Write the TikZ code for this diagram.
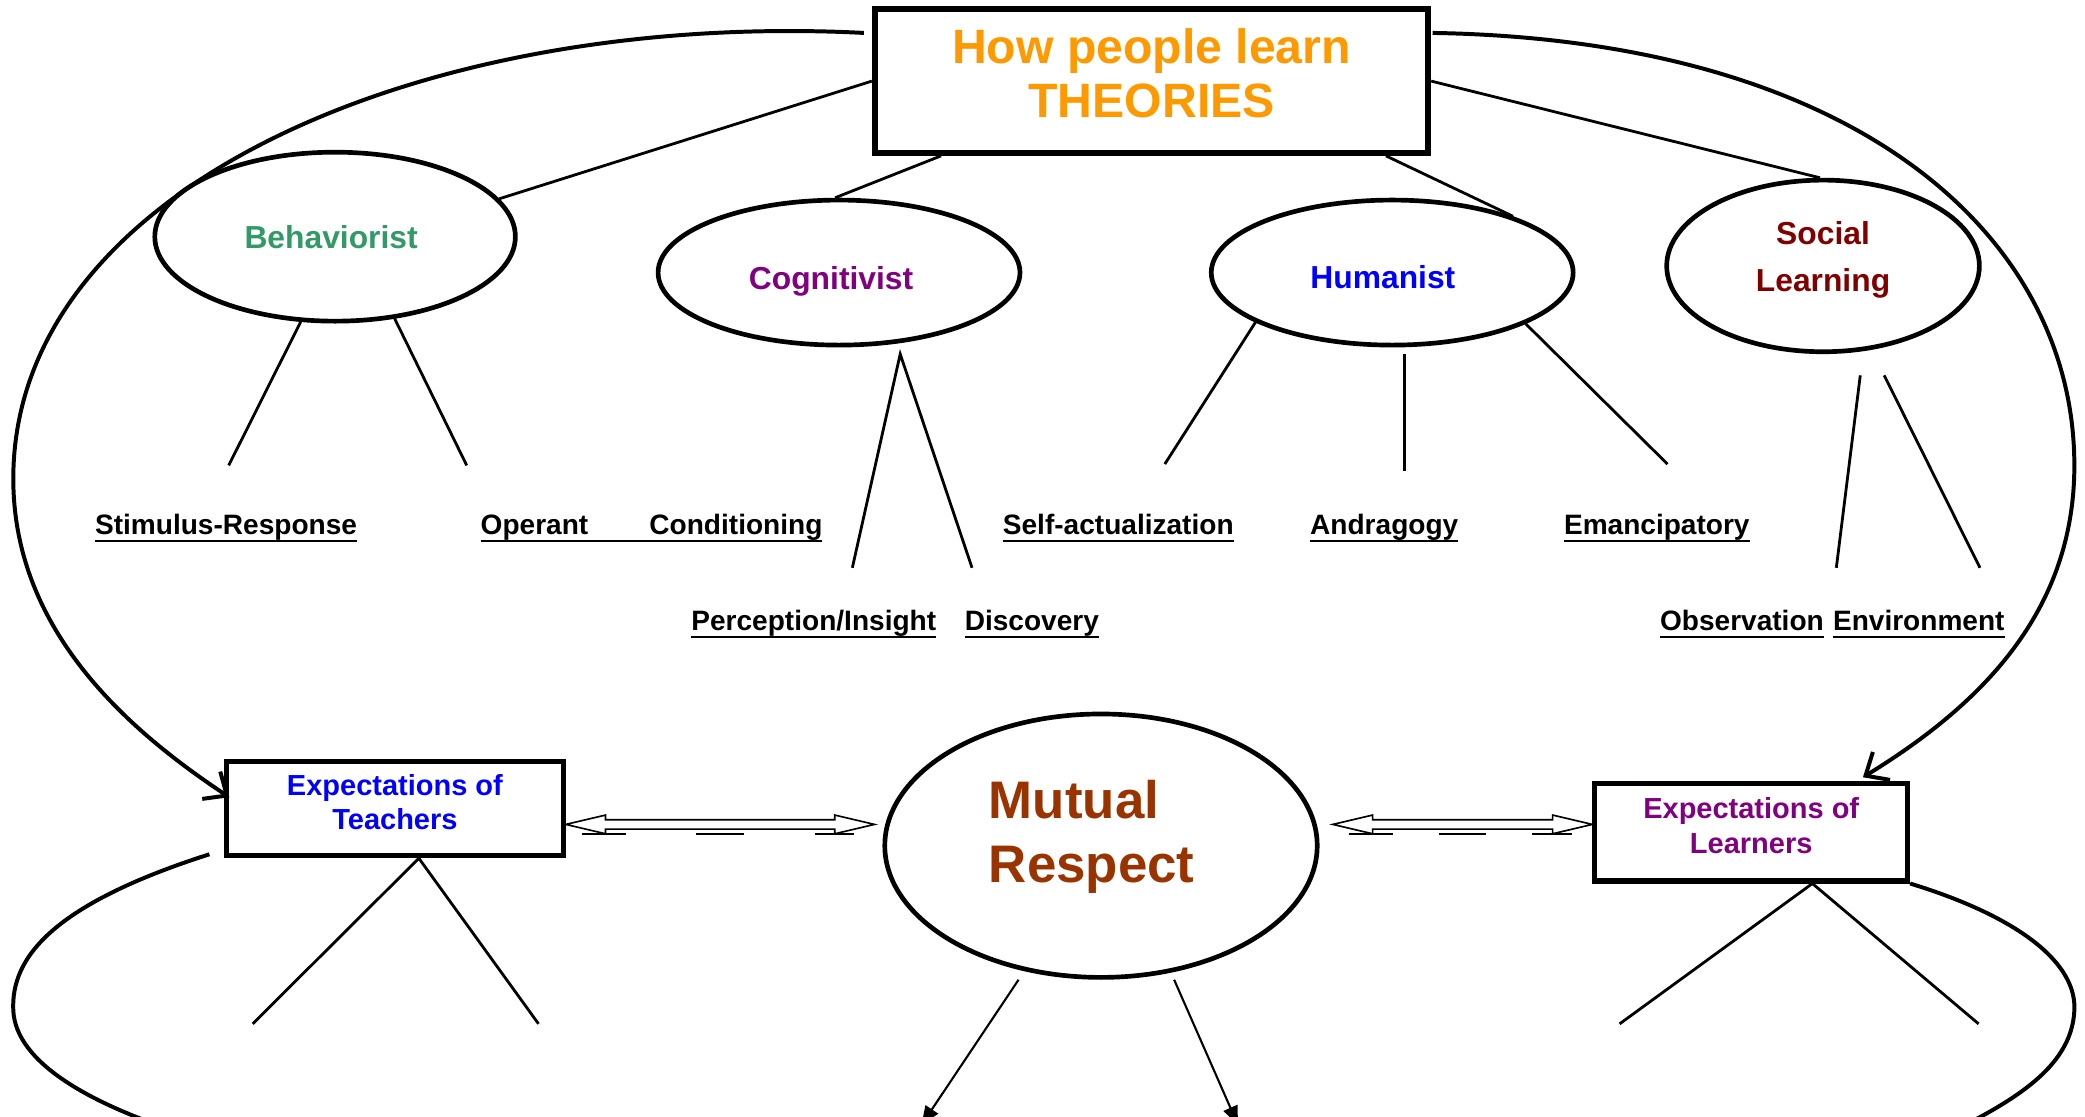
\documentclass[tikz,border=0pt]{standalone}
\usepackage{fontspec}
\setmainfont{Liberation Sans}
\usepackage{xcolor}
\usetikzlibrary{positioning,arrows.meta,calc,shapes.geometric}

\definecolor{titleorange}{HTML}{FF9900}
\definecolor{behavgreen}{HTML}{339966}
\definecolor{cognpurple}{HTML}{800080}
\definecolor{socialred}{HTML}{800000}
\definecolor{respectbrown}{HTML}{993300}

% underlined sub-item, rule just under the baseline
\newcommand{\ulbl}[1]{\underline{\smash{#1}\vphantom{x}}}

% hollow two-headed arrow between two points of equal height, with its dashed trace below
\newcommand{\hollowarrow}[2]{%
  \draw[line width=0.35pt] let \p1=(#1), \p2=(#2) in
    (\x1,\y1) -- (\x1+8.5pt,\y1+2pt) -- (\x1+8.5pt,\y1+1pt) -- (\x2-8.5pt,\y1+1pt)
    -- (\x2-8.5pt,\y1+2pt) -- (\x2,\y1) -- (\x2-8.5pt,\y1-2pt) -- (\x2-8.5pt,\y1-1pt)
    -- (\x1+8.5pt,\y1-1pt) -- (\x1+8.5pt,\y1-2pt) -- cycle;
  \draw[line width=0.5pt] let \p1=(#1), \p2=(#2) in
    (\x1+3.4pt,\y1-2pt) -- (\x1+12.8pt,\y1-2pt)
    ({(\x1+\x2)/2-5.1pt},\y1-2pt) -- ({(\x1+\x2)/2+5.1pt},\y1-2pt)
    (\x2-12.8pt,\y1-2pt) -- (\x2-4.3pt,\y1-2pt);
}

\begin{document}
\begin{tikzpicture}[x=0.01cm, y=-0.01cm, font=\bfseries,
  theory/.style={ellipse, draw, line width=1pt, inner sep=0pt, align=center,
    font=\fontsize{6.8}{10.2}\selectfont\bfseries},
  sublabel/.style={inner sep=0pt, font=\fontsize{6}{7}\selectfont\bfseries},
  expbox/.style={rectangle, draw, line width=1.1pt, inner sep=0pt, align=center,
    font=\fontsize{6.2}{7.4}\selectfont\bfseries},
  branch/.style={line width=0.6pt},
  bigarc/.style={line width=0.85pt}]
% canvas in pixel units, y running downwards
\useasboundingbox (0,0) rectangle (1568,840);
\clip (0,0) rectangle (1568,840);

\node[draw, line width=1.25pt, minimum width=4.16cm, minimum height=1.08cm, inner sep=0pt,
  align=center, text=titleorange, font=\fontsize{10.3}{11.4}\selectfont\bfseries]
  (theories) at (866,61) {How people learn\\THEORIES\rule[-0.12cm]{0pt}{0pt}};

\node[theory, minimum width=2.71cm, minimum height=1.27cm, text=behavgreen] (behav) at (252,178)
  {Behaviorist\rule{0.06cm}{0pt}};
\node[theory, minimum width=2.72cm, minimum height=1.09cm, text=cognpurple] (cogn) at (631,205)
  {Cognitivist\rule{0.12cm}{0pt}\rule{0pt}{0.3cm}};
\node[theory, minimum width=2.72cm, minimum height=1.09cm, text=blue] (human) at (1047,205)
  {Humanist\rule{0.14cm}{0pt}\rule{0pt}{0.24cm}};
\node[theory, minimum width=2.35cm, minimum height=1.29cm, text=socialred] (social) at (1371,200)
  {Social\\Learning\rule[-0.14cm]{0pt}{0pt}};

\draw[branch] (theories.west) -- (behav.13);
\draw[branch] ($(theories.south west)+(52,0)$) -- (cogn.93);
\draw[branch] ($(theories.south east)+(-34,0)$) -- (human.25);
\draw[branch] (theories.east) -- (social.92);

% second level
\node[sublabel] (stimresp) at (170,400) {\ulbl{Stimulus-Response}};
\node[sublabel] (operant) at (490,400) {\ulbl{Operant\hspace{0.46cm}Conditioning}};
\node[sublabel] (percept) at (612,472) {\ulbl{Perception/Insight}};
\node[sublabel] (discov) at (776,472) {\ulbl{Discovery}};
\node[sublabel] (selfact) at (841,400) {\ulbl{Self-actualization}};
\node[sublabel] (andra) at (1041,400) {\ulbl{Andragogy}};
\node[sublabel] (emanc) at (1246,400) {\ulbl{Emancipatory}};
\node[sublabel] (observ) at (1310,472) {\ulbl{Observation}};
\node[sublabel] (environ) at (1443,472) {\ulbl{Environment}};

\coordinate (stimresp-tip) at (172,350);
\coordinate (operant-tip) at (351,350);
\coordinate (cogn-fork) at ($(cogn.south)+(46,5)$);
\coordinate (percept-tip) at (641,427);
\coordinate (discov-tip) at (731,427);
\coordinate (selfact-tip) at (876,349);
\coordinate (andra-top) at ($(human.south)+(9,5)$);
\coordinate (andra-tip) at (1056,354);
\coordinate (emanc-tip) at (1254,349);
\coordinate (observ-top) at ($(social.south)+(28,16)$);
\coordinate (environ-top) at ($(social.south)+(46,16)$);
\coordinate (observ-tip) at (1381,427);
\coordinate (environ-tip) at (1489,427);

\draw[branch] (behav.-112) -- (stimresp-tip);
\draw[branch] (behav.-54) -- (operant-tip);
\draw[branch] (percept-tip) -- (cogn-fork) -- (discov-tip);
\draw[branch] (human.-160) -- (selfact-tip);
\draw[branch] (andra-top) -- (andra-tip);
\draw[branch] (human.-21) -- (emanc-tip);
\draw[branch] (observ-top) -- (observ-tip);
\draw[branch] (environ-top) -- (environ-tip);

% lower part
\node[expbox, minimum width=2.53cm, minimum height=0.71cm, text=blue] (teachexp) at (297,608)
  {Expectations of\\Teachers\rule[-0.1cm]{0pt}{0pt}};
\node[expbox, minimum width=2.35cm, minimum height=0.73cm, text=cognpurple] (learnexp) at (1317,626)
  {Expectations of\\Learners\rule[-0.1cm]{0pt}{0pt}};
\node[ellipse, draw, line width=1pt, inner sep=0pt, minimum width=3.25cm, minimum height=1.98cm,
  align=left, text=respectbrown, font=\fontsize{11.3}{13.7}\selectfont\bfseries]
  (respect) at (828,636) {Mutual\\Respect\rule[-0.21cm]{0.14cm}{0pt}};

\coordinate (teach-r) at ($(teachexp.east)+(0,12)$);
\coordinate (respect-l) at ($(respect.west)+(-6,-16)$);
\coordinate (respect-r) at ($(respect.east)+(10,-16)$);
\coordinate (learn-l) at ($(learnexp.west)+(0,-6)$);
\hollowarrow{teach-r}{respect-l}
\hollowarrow{respect-r}{learn-l}

\coordinate (teach-fork) at ($(teachexp.south)+(18,0)$);
\coordinate (learn-fork) at ($(learnexp.south)+(46,0)$);
\coordinate (teach-tip1) at (190,770);
\coordinate (teach-tip2) at (405,770);
\coordinate (learn-tip1) at (1218,770);
\coordinate (learn-tip2) at (1488,770);
\draw[branch] (teach-tip1) -- (teach-fork) -- (teach-tip2);
\draw[branch] (learn-tip1) -- (learn-fork) -- (learn-tip2);

\coordinate (respect-out1) at ($(respect.south)+(-62,0)$);
\coordinate (respect-out2) at ($(respect.south)+(55,0)$);
\coordinate (out1-end) at (693,846);
\coordinate (out2-end) at (931,846);
\draw[line width=0.45pt, -{Triangle[length=4pt, width=3.2pt]}] (respect-out1) -- (out1-end);
\draw[line width=0.45pt, -{Triangle[length=4pt, width=3.2pt]}] (respect-out2) -- (out2-end);

% outer arcs
\coordinate (arc-l) at ($(theories.north west)+(-6,20)$);
\coordinate (arc-r) at ($(theories.north east)+(1,20)$);
\coordinate (teach-in) at ($(teachexp.north west)+(4,29)$);
\coordinate (learn-in) at ($(learnexp.north)+(84,-3)$);
\draw[bigarc, -{Straight Barb[length=4pt, width=7pt]}] (arc-l)
  .. controls (320,8) and (10,140) .. (10,360)
  .. controls (10,470) and (90,545) .. (teach-in);
\draw[bigarc, -{Straight Barb[length=4pt, width=7pt]}] (arc-r)
  .. controls (1400,30) and (1560,180) .. (1560,350)
  .. controls (1560,460) and (1490,530) .. (learn-in);

\coordinate (teach-loop) at ($(teachexp.south west)+(-11,-3)$);
\coordinate (teach-loop-end) at (130,850);
\coordinate (learn-loop-end) at (1470,850);
\draw[bigarc] (teach-loop)
  .. controls (40,680) and (8,720) .. (10,760)
  .. controls (12,800) and (70,830) .. (teach-loop-end);
\draw[bigarc] (learnexp.south east)
  .. controls (1520,690) and (1562,725) .. (1560,760)
  .. controls (1558,800) and (1520,825) .. (learn-loop-end);
\end{tikzpicture}
\end{document}
